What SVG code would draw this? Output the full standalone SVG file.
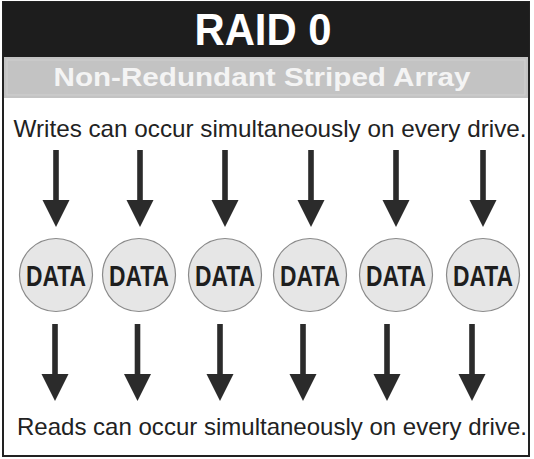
<svg xmlns="http://www.w3.org/2000/svg" width="534" height="459" viewBox="0 0 534 459">
<defs>
<style>
.arrow{fill:#2b2b2b}
.disk{fill:#e6e6e6;stroke:#8a8a8a;stroke-width:1.2}
.dlabel{font-family:"Liberation Sans",Arial,sans-serif;font-weight:bold;font-size:29px;fill:#1e1e1e;text-anchor:middle}
.body{font-family:"Liberation Sans",Arial,sans-serif;font-size:24px;fill:#222}
</style>
<g id="arrowShape"><rect x="-2.8" y="0" width="5.6" height="52" class="arrow"/><polygon points="-13.5,50 13.5,50 0,77" class="arrow"/></g>
</defs>
<rect x="0" y="0" width="534" height="459" fill="#fff"/>
<rect x="3" y="2" width="526" height="454" fill="#fff" stroke="#222" stroke-width="2"/>
<g id="header">
<rect x="3" y="2" width="526" height="55" fill="#1d1d1d"/>
<text x="263" y="45" font-family="'Liberation Sans',Arial,sans-serif" font-weight="bold" font-size="44" fill="#fff" text-anchor="middle" textLength="137" lengthAdjust="spacingAndGlyphs">RAID 0</text>
</g>
<g id="subheader">
<rect x="4" y="57" width="524" height="41" fill="#c3c3c3"/>
<rect x="7" y="60" width="518" height="35" fill="none" stroke="#d0d0d0" stroke-width="1"/>
<text x="262" y="86" font-family="'Liberation Sans',Arial,sans-serif" font-weight="bold" font-size="25" fill="#f4f4f4" text-anchor="middle" textLength="417" lengthAdjust="spacingAndGlyphs">Non-Redundant Striped Array</text>
</g>
<text id="writes" class="body" x="270" y="137" text-anchor="middle" textLength="513" lengthAdjust="spacingAndGlyphs">Writes can occur simultaneously on every drive.</text>
<g id="connectors">
<use href="#arrowShape" x="56" y="150"/>
<use href="#arrowShape" x="140" y="150"/>
<use href="#arrowShape" x="225" y="150"/>
<use href="#arrowShape" x="311" y="150"/>
<use href="#arrowShape" x="396" y="150"/>
<use href="#arrowShape" x="483" y="150"/>
<use href="#arrowShape" x="55" y="324"/>
<use href="#arrowShape" x="137.5" y="324"/>
<use href="#arrowShape" x="220" y="324"/>
<use href="#arrowShape" x="303" y="324"/>
<use href="#arrowShape" x="387" y="324"/>
<use href="#arrowShape" x="472" y="324"/>
</g>
<g id="disk1"><circle cx="56" cy="275" r="36.5" class="disk"/><text x="56" y="286" class="dlabel" textLength="60" lengthAdjust="spacingAndGlyphs">DATA</text></g>
<g id="disk2"><circle cx="139" cy="275" r="36.5" class="disk"/><text x="139" y="286" class="dlabel" textLength="60" lengthAdjust="spacingAndGlyphs">DATA</text></g>
<g id="disk3"><circle cx="225" cy="275" r="36.5" class="disk"/><text x="225" y="286" class="dlabel" textLength="60" lengthAdjust="spacingAndGlyphs">DATA</text></g>
<g id="disk4"><circle cx="310" cy="275" r="36.5" class="disk"/><text x="310" y="286" class="dlabel" textLength="60" lengthAdjust="spacingAndGlyphs">DATA</text></g>
<g id="disk5"><circle cx="396" cy="275" r="36.5" class="disk"/><text x="396" y="286" class="dlabel" textLength="60" lengthAdjust="spacingAndGlyphs">DATA</text></g>
<g id="disk6"><circle cx="483" cy="275" r="36.5" class="disk"/><text x="483" y="286" class="dlabel" textLength="60" lengthAdjust="spacingAndGlyphs">DATA</text></g>
<text id="reads" class="body" x="272" y="435" text-anchor="middle" textLength="510" lengthAdjust="spacingAndGlyphs">Reads can occur simultaneously on every drive.</text>
</svg>
